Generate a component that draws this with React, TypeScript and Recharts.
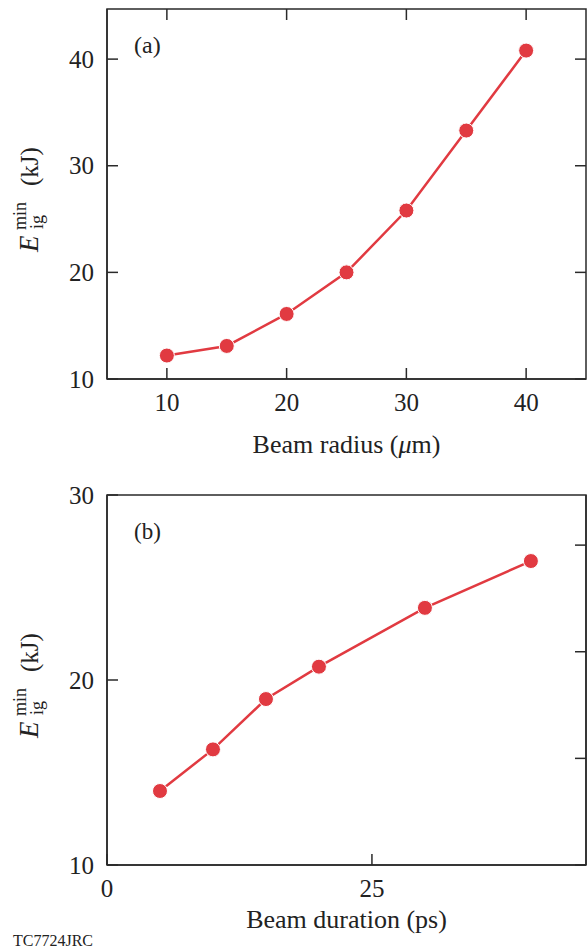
import React from 'react';
import { LineChart, Line, XAxis, YAxis, ReferenceArea } from 'recharts';

const radiusX = [10, 15, 20, 25, 30, 35, 40];
const radiusE = [12.2, 13.1, 16.1, 20.0, 25.8, 33.3, 40.8];
const durationX = [5, 10, 15, 20, 30, 40];
const durationE = [14.0, 16.25, 18.97, 20.72, 23.9, 26.43];

const ticksA_x = [10, 20, 30, 40];
const ticksA_y = [10, 20, 30, 40];
const ticksB_x = [0, 25];
const ticksB_y = [10, 20, 30];
const ticksB_right = [10, 20, 30, 40];

const domA_x = [5, 45];
const domA_y = [10, 44.7];
const domB_x = [0, 45.2];
const domB_y = [10, 30];
const domB_right = [10, 44.7];

const dataA = radiusX.map((x, i) => ({ x, e: radiusE[i] }));
const dataB = durationX.map((x, i) => ({ x, e: durationE[i] }));

const FONT = '"Liberation Serif", "Times New Roman", serif';
const RED = '#e13a41';
const AX = '#2a2a2a';
const TL = 11;

const LeftTick = (p: any) => (
  <g>
    <line x1={p.x} x2={p.x + TL} y1={p.y} y2={p.y} stroke={AX} strokeWidth={1.5} />
    {p.mirrorX != null && (
      <line x1={p.mirrorX - TL} x2={p.mirrorX} y1={p.y} y2={p.y} stroke={AX} strokeWidth={1.5} />
    )}
    <text x={p.x - 13} y={p.y} dy="0.34em" textAnchor="end" fontFamily={FONT} fontSize={25} fill="#222">
      {p.payload.value}
    </text>
  </g>
);
const BottomTick = (p: any) => (
  <g>
    <line x1={p.x} x2={p.x} y1={p.y} y2={p.y - TL} stroke={AX} strokeWidth={1.5} />
    {p.mirrorY != null && (
      <line x1={p.x} x2={p.x} y1={p.mirrorY} y2={p.mirrorY + TL} stroke={AX} strokeWidth={1.5} />
    )}
    <text x={p.x} y={p.y + 32} textAnchor="middle" fontFamily={FONT} fontSize={25} fill="#222">
      {p.payload.value}
    </text>
  </g>
);
const RightTick = (p: any) => (
  <line x1={p.x - TL} x2={p.x} y1={p.y} y2={p.y} stroke={AX} strokeWidth={1.5} />
);

const YLabel = (props: any) => {
  const vb = props.viewBox || {};
  const cy = vb.y + vb.height / 2;
  return (
    <g transform={`translate(38, ${cy}) rotate(-90)`} fontFamily={FONT} fill="#222">
      <text x={-58} y={0} fontSize={27} fontStyle="italic">E</text>
      <text x={-36} y={-12} fontSize={18}>min</text>
      <text x={-35} y={5} fontSize={18}>ig</text>
      <text x={8} y={0} fontSize={25}>(kJ)</text>
    </g>
  );
};

const XLabelA = (props: any) => {
  const vb = props.viewBox || {};
  return (
    <text x={vb.x + vb.width / 2} y={vb.y + 74} textAnchor="middle" fontFamily={FONT} fontSize={26} fill="#222">
      Beam radius (<tspan fontStyle="italic">μ</tspan>m)
    </text>
  );
};

const XLabelB = (props: any) => {
  const vb = props.viewBox || {};
  return (
    <text x={vb.x + vb.width / 2} y={vb.y + 63} textAnchor="middle" fontFamily={FONT} fontSize={26} fill="#222">
      Beam duration (ps)
    </text>
  );
};

const lineProps = {
  type: 'linear' as const,
  dataKey: 'e',
  stroke: RED,
  strokeWidth: 2.5,
  dot: { r: 7.5, fill: RED, stroke: '#fff', strokeWidth: 1 },
  isAnimationActive: false,
};

const axisCommon = {
  type: 'number' as const,
  allowDataOverflow: true,
  tickSize: 0,
  tickMargin: 0,
  tickLine: false,
  interval: 0 as const,
  stroke: AX,
  strokeWidth: 1.5,
};

export default function App() {
  return (
    <div style={{ position: 'absolute', left: 0, top: 0, width: 587, height: 951, background: '#fff', fontFamily: FONT }}>
      <div style={{ position: 'absolute', left: 0, top: 0 }}>
        <LineChart width={587} height={470} data={dataA} margin={{ top: 9, right: 1, bottom: 0, left: 47 }}>
          <XAxis xAxisId="bottom" dataKey="x" domain={domA_x} ticks={ticksA_x} height={91}
            tick={<BottomTick mirrorY={9} />} label={<XLabelA />} {...axisCommon} />
          <YAxis yAxisId="left" domain={domA_y} ticks={ticksA_y} width={60}
            tick={<LeftTick mirrorX={586} />} label={<YLabel />} {...axisCommon} />
          <ReferenceArea xAxisId="bottom" yAxisId="left" x1={domA_x[0]} x2={domA_x[1]} y1={domA_y[0]} y2={domA_y[1]}
            fill="none" fillOpacity={0} stroke={AX} strokeWidth={1.5} ifOverflow="visible" />
          <Line xAxisId="bottom" yAxisId="left" {...lineProps} />
        </LineChart>
        <svg style={{ position: 'absolute', left: 0, top: 0, pointerEvents: 'none' }} width={587} height={470}>
          <text x={134} y={53} fontFamily={FONT} fontSize={24} fill="#222">(a)</text>
        </svg>
      </div>
      <div style={{ position: 'absolute', left: 0, top: 470 }}>
        <LineChart width={587} height={481} data={dataB} margin={{ top: 25, right: 0, bottom: 0, left: 47 }}>
          <XAxis xAxisId="bottom" dataKey="x" domain={domB_x} ticks={ticksB_x} height={86}
            tick={<BottomTick />} label={<XLabelB />} {...axisCommon} />
          <YAxis yAxisId="left" domain={domB_y} ticks={ticksB_y} width={60}
            tick={<LeftTick />} label={<YLabel />} {...axisCommon} />
          <YAxis yAxisId="right" orientation="right" domain={domB_right} ticks={ticksB_right} width={1}
            tick={<RightTick />} {...axisCommon} />
          <ReferenceArea xAxisId="bottom" yAxisId="left" x1={domB_x[0]} x2={domB_x[1]} y1={domB_y[0]} y2={domB_y[1]}
            fill="none" fillOpacity={0} stroke={AX} strokeWidth={1.5} ifOverflow="visible" />
          <Line xAxisId="bottom" yAxisId="left" {...lineProps} />
        </LineChart>
        <svg style={{ position: 'absolute', left: 0, top: 0, pointerEvents: 'none' }} width={587} height={481}>
          <text x={134} y={69} fontFamily={FONT} fontSize={23} fill="#222">(b)</text>
          <text x={13} y={476} fontFamily={FONT} fontSize={16} fill="#222">TC7724JRC</text>
        </svg>
      </div>
    </div>
  );
}
